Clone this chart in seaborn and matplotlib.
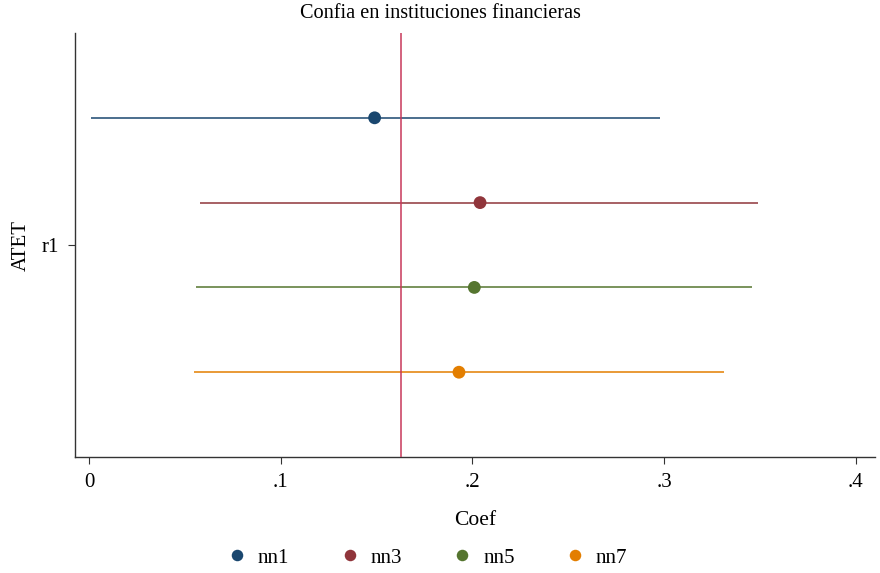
import matplotlib
matplotlib.use('Agg')
import matplotlib.pyplot as plt
import seaborn as sns
import pandas as pd

# Datos
modelos = ['nn1', 'nn3', 'nn5', 'nn7']
coef = [0.149, 0.204, 0.201, 0.193]
ci_low = [0.001, 0.058, 0.056, 0.055]
ci_high = [0.298, 0.349, 0.346, 0.331]
offsets = [0.3, 0.1, -0.1, -0.3]
linea_ref = 0.1627
colores = ['#1a476f', '#90353b', '#55752f', '#e37e00']

sns.set_style('white')
plt.rcParams['font.family'] = ['Liberation Serif', 'DejaVu Serif']
plt.rcParams['text.color'] = 'black'
plt.rcParams['axes.labelcolor'] = 'black'
plt.rcParams['xtick.color'] = 'black'
plt.rcParams['ytick.color'] = 'black'

df = pd.DataFrame({'modelo': modelos, 'coef': coef, 'lo': ci_low,
                   'hi': ci_high, 'y': [1 + o for o in offsets]})

fig = plt.figure(figsize=(8.8, 5.73), dpi=100)
ax = fig.add_axes([0.0852, 0.2024, 0.9091, 0.74])

# Intervalos de confianza
for i, row in df.iterrows():
    ax.hlines(row['y'], row['lo'], row['hi'], color=colores[i], lw=1.1, zorder=2)

ax.axvline(linea_ref, color='#c8385a', lw=1.1, zorder=3)

sns.scatterplot(data=df, x='coef', y='y', hue='modelo', palette=colores,
                s=85, edgecolor='none', ax=ax, zorder=4)

ax.set_xlim(-0.0073, 0.41)
ax.set_ylim(0.5, 1.5)
ax.set_xticks([0, 0.1, 0.2, 0.3, 0.4])
ax.set_xticklabels(['0', '.1', '.2', '.3', '.4'])
ax.set_yticks([1])
ax.set_yticklabels(['r1'])
ax.tick_params(axis='both', labelsize=15, length=5, width=0.8,
               color='#333333', direction='out', bottom=True, left=True, pad=6.5)
ax.set_xlabel('Coef', fontsize=15.5, labelpad=14)
ax.set_ylabel('ATET', fontsize=15, labelpad=8)
fig.text(0.5, 1 - 14 / 573, 'Confia en instituciones financieras',
         fontsize=14.6, ha='center', va='center')

for s in ['top', 'right']:
    ax.spines[s].set_visible(False)
for s in ['left', 'bottom']:
    ax.spines[s].set_color('#333333')
    ax.spines[s].set_linewidth(1)

ax.legend(loc='center', bbox_to_anchor=(0.44, -0.238), ncol=4,
          frameon=False, fontsize=15, handlelength=1.0, handletextpad=0.5,
          columnspacing=2.4, markerscale=0.9)

plt.savefig('out.png', dpi=100)
